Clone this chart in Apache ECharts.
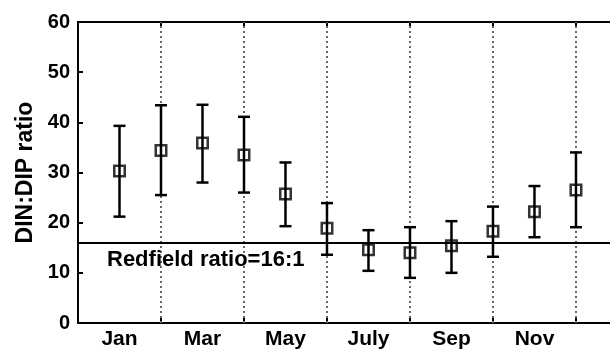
<!DOCTYPE html>
<html><head><meta charset="utf-8">
<script src="https://cdn.jsdelivr.net/npm/echarts@6/dist/echarts.min.js"></script>
<style>html,body{margin:0;padding:0;background:#fff}#c{width:610px;height:354px}</style>
</head><body><div id="c"></div>
<script>
const monthIndex = [1,2,3,4,5,6,7,8,9,10,11,12];
const meanRatio  = [30.3,34.4,35.9,33.5,25.7,18.9,14.6,14.0,15.4,18.3,22.2,26.5];
const upperRatio = [39.3,43.4,43.5,41.1,32.0,23.9,18.5,19.1,20.3,23.2,27.3,34.0];
const lowerRatio = [21.2,25.5,28.0,26.0,19.3,13.6,10.4,9.0,10.0,13.2,17.1,19.1];
const tickLabels = ['Jan','Mar','May','July','Sep','Nov'];
const labelPositions = [1,3,5,7,9,11];
const gridPositions = [2,4,6,8,10,12];
const redfieldRatio = 16;
const redfieldText = 'Redfield ratio=16:1';

const FONT = 'Liberation Sans, Arial, sans-serif';
const chart = echarts.init(document.getElementById('c'), null, {renderer:'canvas'});

const errData = monthIndex.map((m,i)=>[m, lowerRatio[i], upperRatio[i]]);
const meanData = monthIndex.map((m,i)=>[m, meanRatio[i]]);

chart.setOption({
  animation:false,
  backgroundColor:'#fff',
  grid:{left:78, right:0, top:22, bottom:31},
  xAxis:[{
    type:'value', min:0, max:12.82, interval:1, position:'bottom',
    axisLine:{show:true, onZero:false, lineStyle:{color:'#000', width:2}},
    axisTick:{show:true, inside:true, length:5, customValues:gridPositions, lineStyle:{color:'#000', width:2}},
    axisLabel:{show:true, customValues:labelPositions, margin:6,
      formatter:v=>tickLabels[labelPositions.indexOf(Math.round(v))] || '',
      color:'#000', fontSize:21, fontWeight:'bold', fontFamily:FONT},
    splitLine:{show:false}
  },{
    type:'value', min:0, max:12.82, interval:2, position:'top',
    axisLine:{show:true, onZero:false, lineStyle:{color:'#000', width:2}},
    axisTick:{show:true, inside:true, length:5, customValues:gridPositions, lineStyle:{color:'#000', width:2}},
    axisLabel:{show:false}, splitLine:{show:false}
  }],
  yAxis:{
    type:'value', min:0, max:60, interval:10,
    name:'DIN:DIP ratio', nameLocation:'middle', nameGap:40,
    nameTextStyle:{color:'#000', fontSize:23, fontWeight:'bold', fontFamily:FONT},
    axisLine:{show:true, lineStyle:{color:'#000', width:2}},
    axisTick:{show:true, inside:true, length:5, lineStyle:{color:'#000', width:2}},
    axisLabel:{color:'#000', fontSize:20, fontWeight:'bold', fontFamily:FONT, margin:8},
    splitLine:{show:false}
  },
  series:[{
    type:'custom', xAxisIndex:0, z:3,
    data:errData,
    renderItem(params, api){
      const x = api.value(0), lo = api.value(1), hi = api.value(2);
      const pHi = api.coord([x, hi]), pLo = api.coord([x, lo]);
      const hw = 6, st = {stroke:'#000', lineWidth:2.5};
      return {type:'group', children:[
        {type:'line', shape:{x1:pHi[0], y1:pHi[1], x2:pLo[0], y2:pLo[1]}, style:st},
        {type:'line', shape:{x1:pHi[0]-hw, y1:pHi[1], x2:pHi[0]+hw, y2:pHi[1]}, style:st},
        {type:'line', shape:{x1:pLo[0]-hw, y1:pLo[1], x2:pLo[0]+hw, y2:pLo[1]}, style:st}
      ]};
    }
  },{
    type:'scatter', xAxisIndex:0, z:4,
    data:meanData, symbol:'rect', symbolSize:10.5,
    itemStyle:{color:'rgba(0,0,0,0)', borderColor:'#000', borderWidth:2.5},
    markLine:{
      silent:true, symbol:'none', z:1,
      data: gridPositions.map(v=>({xAxis:v, lineStyle:{type:[2,3], color:'#666', width:2}, label:{show:false}}))
        .concat([{yAxis:redfieldRatio, lineStyle:{type:'solid', color:'#000', width:2.2},
          label:{show:true, position:'insideStartBottom', formatter:redfieldText, distance:[29,6],
            color:'#000', fontSize:22, fontWeight:'bold', fontFamily:FONT}}])
    }
  }]
});
</script></body></html>
